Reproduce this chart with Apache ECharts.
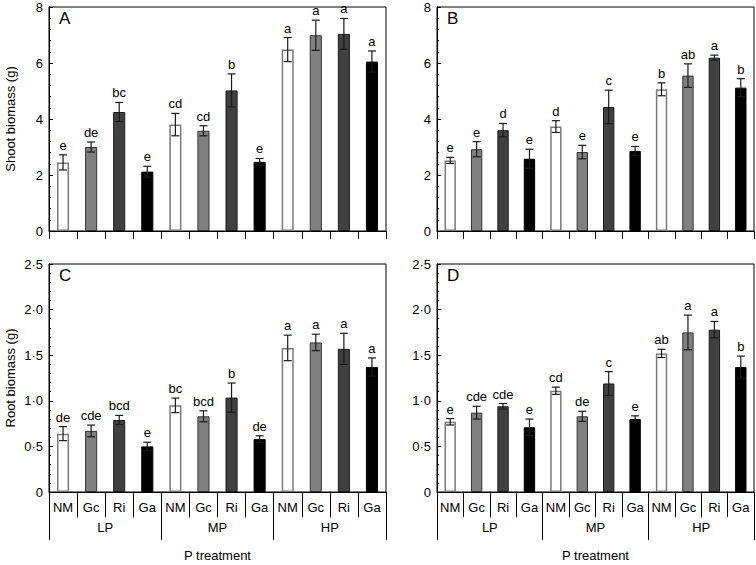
<!DOCTYPE html>
<html>
<head>
<meta charset="utf-8">
<script src="https://cdn.jsdelivr.net/npm/echarts@6/dist/echarts.min.js"></script>
<style>
html,body{margin:0;padding:0;background:#fff;}
#chart{width:756px;height:565px;}
</style>
</head>
<body>
<div id="chart"></div>
<script>
// ---- data ----
const groups = ['LP', 'MP', 'HP'];
const treatments = ['NM', 'Gc', 'Ri', 'Ga'];
const shootTicks = [0, 2, 4, 6, 8];
const rootTicks = [0, 0.5, 1.0, 1.5, 2.0, 2.5];

const shootMeansA = [2.45, 3.00, 4.25, 2.12, 3.80, 3.58, 5.02, 2.47, 6.48, 6.99, 7.04, 6.05];
const shootErrA   = [0.27, 0.18, 0.34, 0.19, 0.40, 0.18, 0.59, 0.12, 0.43, 0.54, 0.55, 0.38];
const lettersA    = ['e', 'de', 'bc', 'e', 'cd', 'cd', 'b', 'e', 'a', 'a', 'a', 'a'];

const shootMeansB = [2.52, 2.92, 3.60, 2.58, 3.73, 2.82, 4.43, 2.86, 5.06, 5.55, 6.19, 5.12];
const shootErrB   = [0.11, 0.27, 0.24, 0.34, 0.21, 0.24, 0.60, 0.16, 0.23, 0.42, 0.09, 0.32];
const lettersB    = ['e', 'e', 'd', 'e', 'd', 'e', 'c', 'e', 'b', 'ab', 'a', 'b'];

const rootMeansC = [0.64, 0.67, 0.79, 0.50, 0.95, 0.83, 1.035, 0.58, 1.58, 1.64, 1.57, 1.37];
const rootErrC   = [0.077, 0.064, 0.05, 0.046, 0.08, 0.06, 0.16, 0.037, 0.14, 0.09, 0.17, 0.10];
const lettersC   = ['de', 'cde', 'bcd', 'e', 'bc', 'bcd', 'b', 'de', 'a', 'a', 'a', 'a'];

const rootMeansD = [0.77, 0.87, 0.94, 0.71, 1.11, 0.83, 1.19, 0.80, 1.52, 1.75, 1.78, 1.37];
const rootErrD   = [0.035, 0.07, 0.03, 0.09, 0.04, 0.055, 0.13, 0.035, 0.045, 0.19, 0.09, 0.12];
const lettersD   = ['e', 'cde', 'cde', 'e', 'cd', 'de', 'c', 'e', 'ab', 'a', 'a', 'b'];

// ---- styling ----
const FONT = "'Liberation Sans', Arial, Helvetica, sans-serif";
const fills   = ['#ffffff', '#808080', '#404040', '#000000'];
const borders = ['#7a7a7a', '#333333', '#1a1a1a', '#000000'];
const borderW = [1.5, 1, 1, 1];

const cats = [];
groups.forEach(g => treatments.forEach(t => cats.push(g + '|' + t)));

const panels = [
  {id: 'A', means: shootMeansA, errs: shootErrA, letters: lettersA, grid: {left: 49, top: 7, right: 370, height: 224}, ticks: shootTicks, yName: 'Shoot biomass (g)', bottom: false},
  {id: 'B', means: shootMeansB, errs: shootErrB, letters: lettersB, grid: {left: 437, top: 7, right: 2, height: 224}, ticks: shootTicks, yName: '', bottom: false},
  {id: 'C', means: rootMeansC, errs: rootErrC, letters: lettersC, grid: {left: 49, top: 264, right: 370, height: 228}, ticks: rootTicks, yName: 'Root biomass (g)', bottom: true},
  {id: 'D', means: rootMeansD, errs: rootErrD, letters: lettersD, grid: {left: 437, top: 264, right: 2, height: 228}, ticks: rootTicks, yName: '', bottom: true}
];

const grid = [], xAxis = [], yAxis = [], series = [], title = [];

panels.forEach((p, pi) => {
  grid.push(Object.assign({show: true, borderColor: '#000', borderWidth: 1, backgroundColor: 'transparent', containLabel: false}, p.grid));
  const tickMin = p.ticks[0], tickMax = p.ticks[p.ticks.length - 1];
  const interval = p.ticks[1] - p.ticks[0];
  const yIndex = yAxis.length;
  yAxis.push({
    type: 'value', gridIndex: pi, min: tickMin, max: tickMax, interval: interval,
    name: p.yName, nameLocation: 'middle', nameGap: 32,
    nameTextStyle: {fontFamily: FONT, fontSize: 13, color: '#000'},
    axisLine: {show: true, lineStyle: {color: '#000', width: 1}},
    axisTick: {show: true, inside: true, length: 4, lineStyle: {color: '#000'}},
    minorTick: {show: true, splitNumber: 5, length: 2, lineStyle: {color: '#000'}},
    splitLine: {show: false},
    axisLabel: {
      margin: 6, color: '#000', fontFamily: FONT, fontSize: 13,
      formatter: v => v === 0 ? '0' : (Number.isInteger(interval) ? String(v) : v.toFixed(1).replace('.', '\u00b7'))
    }
  });
  const xIndex = xAxis.length;
  xAxis.push({
    type: 'category', gridIndex: pi, data: cats, boundaryGap: true, position: 'bottom',
    axisLine: {show: true, lineStyle: {color: '#000', width: 1}},
    axisTick: {show: true, interval: 0, inside: false, length: p.bottom ? 25 : 8, lineStyle: {color: '#000'}},
    axisLabel: {show: p.bottom, interval: 0, margin: 9, color: '#000', fontFamily: FONT, fontSize: 13,
      formatter: v => v.split('|')[1]}
  });
  if (p.bottom) {
    xAxis.push({
      type: 'category', gridIndex: pi, data: groups, boundaryGap: true, position: 'bottom', offset: 0,
      name: 'P treatment', nameLocation: 'middle', nameGap: 57,
      nameTextStyle: {fontFamily: FONT, fontSize: 13, color: '#000'},
      axisLine: {show: false},
      axisTick: {show: true, interval: 0, length: 48, lineStyle: {color: '#000'}},
      axisLabel: {show: true, interval: 0, margin: 29, color: '#000', fontFamily: FONT, fontSize: 13}
    });
  }
  series.push({
    type: 'bar', xAxisIndex: xIndex, yAxisIndex: yIndex, barWidth: '43%',
    data: p.means.map((m, i) => ({
      value: m,
      itemStyle: {color: fills[i % 4], borderColor: borders[i % 4], borderWidth: borderW[i % 4]}
    })),
    z: 2, silent: true, animation: false
  });
  const letters = p.letters;
  series.push({
    type: 'custom', xAxisIndex: xIndex, yAxisIndex: yIndex, clip: false, z: 5, silent: true, animation: false,
    itemStyle: {color: '#000'},
    data: p.means.map((m, i) => [i, m, p.errs[i]]),
    encode: {x: 0, y: 1},
    renderItem: (params, api) => {
      const i = params.dataIndex;
      const x = api.value(0), m = api.value(1), e = api.value(2);
      const top = api.coord([x, m + e]);
      const bot = api.coord([x, m - e]);
      const half = 4;
      const st = {stroke: '#1a1a1a', lineWidth: 1.2, fill: null};
      return {
        type: 'group',
        children: [
          {type: 'line', shape: {x1: top[0], y1: top[1], x2: bot[0], y2: bot[1]}, style: st},
          {type: 'line', shape: {x1: top[0] - half, y1: top[1], x2: top[0] + half, y2: top[1]}, style: st},
          {type: 'line', shape: {x1: bot[0] - half, y1: bot[1], x2: bot[0] + half, y2: bot[1]}, style: st},
          {type: 'text', style: {text: letters[i], x: top[0], y: top[1] - 3, align: 'center', verticalAlign: 'bottom',
            fontSize: 13, fontFamily: FONT, fill: '#000', stroke: null}}
        ]
      };
    }
  });
  title.push({
    text: p.id, padding: 0,
    left: p.grid.left + 10, top: p.grid.top + 3,
    textStyle: {fontFamily: FONT, fontSize: 17, fontWeight: 'normal', color: '#000'}
  });
});

const chart = echarts.init(document.getElementById('chart'), null, {renderer: 'svg'});
chart.setOption({
  backgroundColor: '#fff',
  animation: false,
  title: title,
  grid: grid,
  xAxis: xAxis,
  yAxis: yAxis,
  series: series
});
</script>
</body>
</html>
